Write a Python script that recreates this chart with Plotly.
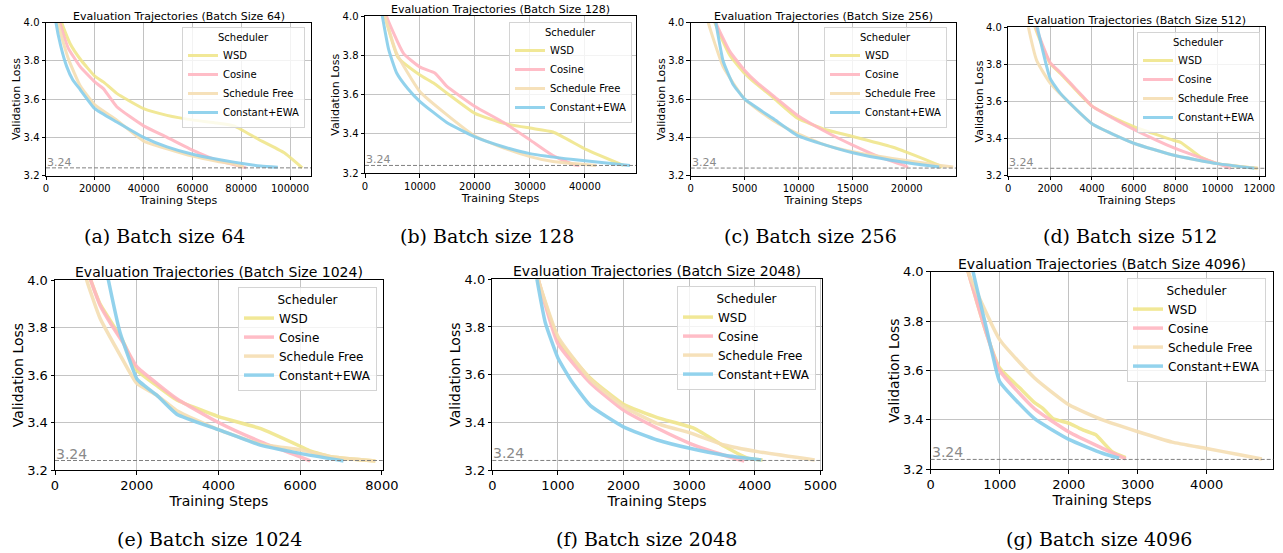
import plotly.graph_objects as go

W, H = 1283, 553

SCHEDULERS = ["WSD", "Cosine", "Schedule Free", "Constant+EWA"]
COLORS = {"WSD": "#F0E68C", "Cosine": "#FFB6C1",
          "Schedule Free": "#F5DEB3", "Constant+EWA": "#87CEEB"}
BATCH_SIZES = [64, 128, 256, 512, 1024, 2048, 4096]
CAPTIONS = ["(a) Batch size 64", "(b) Batch size 128", "(c) Batch size 256",
            "(d) Batch size 512", "(e) Batch size 1024", "(f) Batch size 2048",
            "(g) Batch size 4096"]
TARGET_LOSS = 3.24
Y_TICKS = [3.2, 3.4, 3.6, 3.8, 4.0]

# ---------------- data ----------------
# Batch size 64
A_WSD_X = [6000, 6440, 9900, 14000, 20000, 23500, 29000, 40000, 49600, 60500, 70000, 77000, 87000, 97500, 105000]
A_WSD_Y = [4.05, 4.0, 3.89, 3.81, 3.72, 3.69, 3.63, 3.55, 3.515, 3.49, 3.475, 3.46, 3.39, 3.32, 3.24]
A_COS_X = [5300, 5750, 9000, 14000, 20000, 23500, 29000, 40000, 49600, 60500, 70000, 76000, 82000]
A_COS_Y = [4.05, 4.0, 3.87, 3.77, 3.69, 3.655, 3.56, 3.46, 3.40, 3.33, 3.28, 3.26, 3.24]
A_SF_X = [4600, 5000, 7000, 9500, 14000, 20000, 29000, 40000, 49600, 60500, 70000, 77000, 81000]
A_SF_Y = [4.05, 4.0, 3.90, 3.80, 3.67, 3.57, 3.49, 3.38, 3.34, 3.30, 3.275, 3.26, 3.245]
A_EWA_X = [3700, 4100, 6000, 8500, 11000, 14000, 20000, 29000, 40000, 49600, 60500, 77000, 88000, 95000]
A_EWA_Y = [4.05, 4.0, 3.88, 3.77, 3.70, 3.65, 3.55, 3.48, 3.40, 3.35, 3.31, 3.27, 3.25, 3.243]

# Batch size 128
B_WSD_X = [3300, 3640, 6000, 10000, 12400, 14800, 20000, 25150, 30000, 34200, 40300, 47000]
B_WSD_Y = [4.06, 4.0, 3.79, 3.70, 3.66, 3.61, 3.505, 3.455, 3.43, 3.41, 3.32, 3.24]
B_COS_X = [3500, 3900, 7000, 10000, 12700, 14800, 20000, 25150, 30000, 34200, 37900, 39000]
B_COS_Y = [4.06, 4.0, 3.81, 3.74, 3.71, 3.645, 3.54, 3.46, 3.37, 3.29, 3.245, 3.24]
B_SF_X = [3300, 3640, 5760, 10000, 14800, 20000, 25150, 30000, 34200, 42100]
B_SF_Y = [4.06, 4.0, 3.81, 3.615, 3.50, 3.39, 3.33, 3.285, 3.26, 3.24]
B_EWA_X = [2800, 3150, 4300, 5760, 7800, 10000, 14800, 20000, 25150, 30000, 37900, 48200]
B_EWA_Y = [4.06, 4.0, 3.83, 3.71, 3.63, 3.565, 3.46, 3.385, 3.335, 3.30, 3.27, 3.24]

# Batch size 256
C_WSD_X = [2050, 2240, 3620, 5000, 6070, 7600, 9900, 12500, 15000, 18650, 19900, 22950, 23300]
C_WSD_Y = [4.06, 4.0, 3.83, 3.735, 3.68, 3.61, 3.50, 3.44, 3.405, 3.35, 3.325, 3.255, 3.245]
C_COS_X = [2100, 2330, 3620, 5000, 6070, 7600, 9900, 12500, 15000, 17400, 19900, 20100]
C_COS_Y = [4.06, 4.0, 3.85, 3.75, 3.69, 3.62, 3.515, 3.43, 3.36, 3.30, 3.25, 3.243]
C_SF_X = [1450, 1630, 3000, 5000, 7600, 9900, 12500, 15000, 18650, 22950, 24300]
C_SF_Y = [4.06, 4.0, 3.77, 3.60, 3.49, 3.42, 3.36, 3.325, 3.29, 3.255, 3.245]
C_EWA_X = [2150, 2330, 3000, 3900, 5000, 7600, 9900, 12500, 15000, 18650, 23000]
C_EWA_Y = [4.06, 4.0, 3.80, 3.68, 3.60, 3.50, 3.41, 3.36, 3.32, 3.28, 3.245]

# Batch size 512
D_WSD_X = [1200, 1280, 2000, 2500, 3000, 3500, 4000, 5000, 6000, 7920, 8240, 9200, 10000, 11920]
D_WSD_Y = [4.05, 4.0, 3.805, 3.75, 3.69, 3.63, 3.575, 3.515, 3.465, 3.39, 3.38, 3.30, 3.265, 3.24]
D_COS_X = [1250, 1330, 2000, 2500, 3000, 3500, 4000, 5000, 6000, 7920, 10000, 10640]
D_COS_Y = [4.05, 4.0, 3.81, 3.755, 3.695, 3.635, 3.575, 3.51, 3.45, 3.35, 3.265, 3.24]
D_SF_X = [880, 960, 1360, 2000, 4000, 6000, 7920, 10000, 11920]
D_SF_Y = [4.05, 4.0, 3.82, 3.70, 3.48, 3.375, 3.31, 3.265, 3.24]
D_EWA_X = [1330, 1390, 2000, 2480, 4000, 6000, 7920, 10000, 11760]
D_EWA_Y = [4.05, 4.0, 3.725, 3.645, 3.48, 3.375, 3.31, 3.265, 3.24]

# Batch size 1024
E_WSD_X = [800, 875, 1100, 1350, 1670, 2000, 2490, 2980, 4000, 5020, 6000, 6245, 6800, 7840]
E_WSD_Y = [4.05, 4.0, 3.90, 3.83, 3.74, 3.62, 3.555, 3.495, 3.425, 3.375, 3.30, 3.28, 3.255, 3.238]
E_COS_X = [820, 875, 1100, 1350, 1670, 2000, 2490, 2980, 4000, 5020, 6000, 6245]
E_COS_Y = [4.05, 4.0, 3.895, 3.82, 3.735, 3.635, 3.565, 3.50, 3.40, 3.32, 3.255, 3.238]
E_SF_X = [720, 775, 1100, 1590, 2000, 2490, 2980, 4000, 5020, 6000, 6800, 7840]
E_SF_Y = [4.05, 4.0, 3.84, 3.685, 3.565, 3.515, 3.45, 3.37, 3.31, 3.285, 3.255, 3.238]
E_EWA_X = [1250, 1306, 1590, 2000, 2080, 2490, 2980, 4000, 5020, 6000, 7060]
E_EWA_Y = [4.05, 4.0, 3.78, 3.585, 3.57, 3.515, 3.435, 3.37, 3.305, 3.27, 3.238]

# Batch size 2048
F_WSD_X = [670, 700, 1000, 1495, 2005, 2515, 3077, 3535, 3890, 4120]
F_WSD_Y = [4.05, 4.0, 3.75, 3.585, 3.475, 3.42, 3.375, 3.30, 3.25, 3.242]
F_COS_X = [670, 700, 1000, 1495, 2005, 2515, 3025, 3535, 3840]
F_COS_Y = [4.05, 4.0, 3.73, 3.565, 3.45, 3.375, 3.31, 3.262, 3.238]
F_SF_X = [670, 700, 1000, 1495, 2005, 2515, 3025, 3535, 4045, 4913]
F_SF_Y = [4.05, 4.0, 3.76, 3.58, 3.465, 3.395, 3.355, 3.305, 3.277, 3.242]
F_EWA_X = [650, 680, 806, 1000, 1214, 1495, 2005, 2515, 3025, 3535, 4100]
F_EWA_Y = [4.05, 4.0, 3.82, 3.67, 3.57, 3.47, 3.38, 3.326, 3.29, 3.262, 3.242]

# Batch size 4096
G_WSD_X = [500, 543, 808, 1000, 1288, 1505, 1625, 1769, 2010, 2154, 2346, 2394, 2635, 2827]
G_WSD_Y = [4.06, 4.0, 3.75, 3.61, 3.53, 3.47, 3.447, 3.406, 3.386, 3.366, 3.345, 3.34, 3.27, 3.247]
G_COS_X = [500, 543, 808, 1000, 1505, 2010, 2490, 2827]
G_COS_Y = [4.06, 4.0, 3.75, 3.60, 3.445, 3.35, 3.285, 3.242]
G_SF_X = [500, 543, 1000, 1505, 2010, 2490, 2995, 3500, 3980, 4460, 4800]
G_SF_Y = [4.06, 4.0, 3.725, 3.57, 3.46, 3.40, 3.353, 3.31, 3.285, 3.26, 3.242]
G_EWA_X = [590, 615, 808, 900, 1000, 1505, 2010, 2490, 2730]
G_EWA_Y = [4.05, 4.0, 3.77, 3.66, 3.555, 3.405, 3.32, 3.265, 3.245]

PANEL_DATA = [
    {"WSD": (A_WSD_X, A_WSD_Y), "Cosine": (A_COS_X, A_COS_Y), "Schedule Free": (A_SF_X, A_SF_Y), "Constant+EWA": (A_EWA_X, A_EWA_Y)},
    {"WSD": (B_WSD_X, B_WSD_Y), "Cosine": (B_COS_X, B_COS_Y), "Schedule Free": (B_SF_X, B_SF_Y), "Constant+EWA": (B_EWA_X, B_EWA_Y)},
    {"WSD": (C_WSD_X, C_WSD_Y), "Cosine": (C_COS_X, C_COS_Y), "Schedule Free": (C_SF_X, C_SF_Y), "Constant+EWA": (C_EWA_X, C_EWA_Y)},
    {"WSD": (D_WSD_X, D_WSD_Y), "Cosine": (D_COS_X, D_COS_Y), "Schedule Free": (D_SF_X, D_SF_Y), "Constant+EWA": (D_EWA_X, D_EWA_Y)},
    {"WSD": (E_WSD_X, E_WSD_Y), "Cosine": (E_COS_X, E_COS_Y), "Schedule Free": (E_SF_X, E_SF_Y), "Constant+EWA": (E_EWA_X, E_EWA_Y)},
    {"WSD": (F_WSD_X, F_WSD_Y), "Cosine": (F_COS_X, F_COS_Y), "Schedule Free": (F_SF_X, F_SF_Y), "Constant+EWA": (F_EWA_X, F_EWA_Y)},
    {"WSD": (G_WSD_X, G_WSD_Y), "Cosine": (G_COS_X, G_COS_Y), "Schedule Free": (G_SF_X, G_SF_Y), "Constant+EWA": (G_EWA_X, G_EWA_Y)},
]

# ---------------- layout (pixels) ----------------
TOP = dict(title=11, tick=10, axtitle=11, legend=10, label=11, lw=3.0)
BOT = dict(title=14, tick=13, axtitle=14, legend=12, label=14, lw=3.5)
PANELS = [
    dict(box=(46, 311, 22.7, 175.5), xmax=108600, dtick=20000, leg=(305, 27), cap=(164, 236), st=TOP),
    dict(box=(365, 636, 16, 173.3), xmax=49300, dtick=10000, leg=(632, 22), cap=(487, 236), st=TOP),
    dict(box=(690.7, 956, 22.7, 175.7), xmax=24560, dtick=5000, leg=(947, 27), cap=(810, 236), st=TOP),
    dict(box=(1008.3, 1265, 27.3, 175.7), xmax=12272, dtick=2000, leg=(1260, 32), cap=(1130, 236), st=TOP),
    dict(box=(55, 382.7, 280, 470), xmax=8020, dtick=2000, leg=(377, 287), cap=(209, 539), st=BOT),
    dict(box=(492.3, 821.7, 279.3, 470), xmax=5020, dtick=1000, leg=(816, 286), cap=(646, 539), st=BOT),
    dict(box=(930.7, 1273.3, 271.7, 469.3), xmax=4966, dtick=1000, leg=(1266, 278), cap=(1099, 539), st=BOT),
]

FONT = "DejaVu Sans"
fig = go.Figure()
annotations = []
shapes = []

for i, (p, data, bs) in enumerate(zip(PANELS, PANEL_DATA, BATCH_SIZES)):
    n = i + 1
    sfx = "" if n == 1 else str(n)
    xa, ya = "x" + sfx, "y" + sfx
    leg = "legend" + sfx
    L, R, T, B = p["box"]
    st = p["st"]
    for s in SCHEDULERS:
        xs, ys = data[s]
        fig.add_trace(go.Scatter(
            x=xs, y=ys, mode="lines", name=s, xaxis=xa, yaxis=ya, legend=leg,
            line=dict(color=COLORS[s], width=st["lw"], shape="spline", smoothing=0.45),
            opacity=0.9, showlegend=True))
    axis_common = dict(
        showline=True, mirror=True, linecolor="black", linewidth=1,
        ticks="outside", ticklen=3.5, tickcolor="black", tickwidth=1,
        showgrid=True, gridcolor="#c4c4c4", gridwidth=1, zeroline=False,
        tickfont=dict(family=FONT, size=st["tick"], color="black"),
        automargin=False)
    fig.layout["xaxis" + sfx] = dict(
        axis_common, domain=[L / W, R / W], anchor=ya, range=[0, p["xmax"]],
        tick0=0, dtick=p["dtick"], tickformat="d",
        title=dict(text="Training Steps", font=dict(family=FONT, size=st["axtitle"], color="black"), standoff=0))
    fig.layout["yaxis" + sfx] = dict(
        axis_common, domain=[1 - B / H, 1 - T / H], anchor=xa, range=[3.2, 4.0],
        tickvals=Y_TICKS, tickformat=".1f",
        title=dict(text="Validation Loss", font=dict(family=FONT, size=st["axtitle"], color="black"), standoff=0))
    fig.layout[leg] = dict(
        x=p["leg"][0] / W, y=1 - p["leg"][1] / H, xanchor="right", yanchor="top",
        xref="paper", yref="paper",
        bgcolor="rgba(255,255,255,0.8)", bordercolor="#d4d4d4", borderwidth=1,
        font=dict(family=FONT, size=st["legend"], color="black"),
        title=dict(text="Scheduler", side="top center", font=dict(family=FONT, size=st["legend"], color="black")),
        itemwidth=30, tracegroupgap=0)
    # target loss line and label
    shapes.append(dict(type="line", xref=xa + " domain", yref=ya, x0=0, x1=1,
                       y0=TARGET_LOSS, y1=TARGET_LOSS,
                       line=dict(color="#808080", width=1, dash="4px,2px")))
    annotations.append(dict(xref=xa + " domain", yref=ya, x=0, y=TARGET_LOSS,
                            xanchor="left", yanchor="bottom", showarrow=False,
                            text=f"{TARGET_LOSS:.2f}", yshift=-3, xshift=-1,
                            font=dict(family=FONT, size=st["label"], color="#8a8a8a")))
    # panel title
    annotations.append(dict(xref="paper", yref="paper", x=(L + R) / 2 / W, y=1 - T / H,
                            xanchor="center", yanchor="bottom", showarrow=False,
                            text=f"Evaluation Trajectories (Batch Size {bs})", yshift=-2,
                            font=dict(family=FONT, size=st["title"], color="black")))
    # caption
    annotations.append(dict(xref="paper", yref="paper", x=p["cap"][0] / W, y=1 - p["cap"][1] / H,
                            xanchor="center", yanchor="middle", showarrow=False,
                            text=CAPTIONS[i],
                            font=dict(family="DejaVu Serif", size=19, color="black")))

fig.update_layout(
    width=W, height=H, margin=dict(l=0, r=0, t=0, b=0),
    paper_bgcolor="white", plot_bgcolor="white",
    annotations=annotations, shapes=shapes,
    font=dict(family=FONT, color="black"),
)
fig.write_html("out.html")
